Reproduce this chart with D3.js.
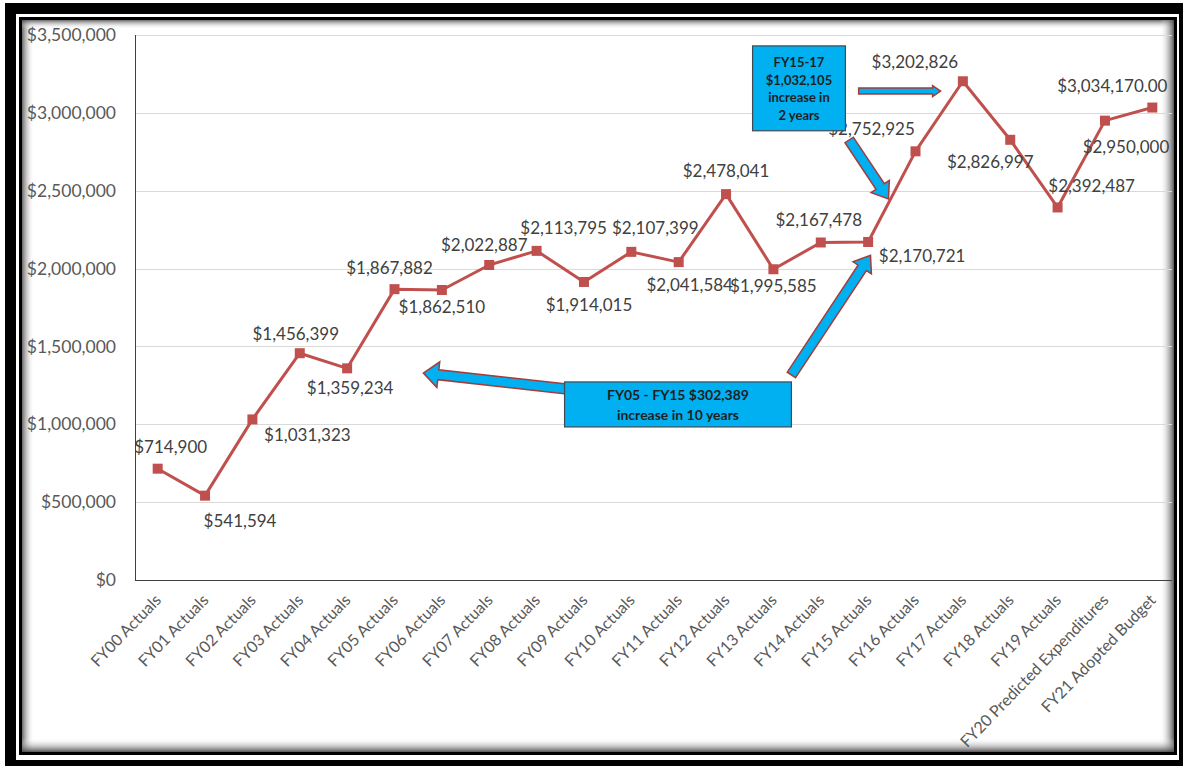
<!DOCTYPE html>
<html>
<head>
<meta charset="utf-8">
<script src="https://cdn.jsdelivr.net/npm/d3@7"></script>
<style>
  html, body { margin: 0; padding: 0; background: #fff; }
  svg { display: block; font-family: Lato, "Open Sans", sans-serif; }
</style>
</head>
<body>
<svg id="chart"></svg>
<script>
// ---- data ----
const categories = [
  'FY00 Actuals', 'FY01 Actuals', 'FY02 Actuals', 'FY03 Actuals', 'FY04 Actuals',
  'FY05 Actuals', 'FY06 Actuals', 'FY07 Actuals', 'FY08 Actuals', 'FY09 Actuals',
  'FY10 Actuals', 'FY11 Actuals', 'FY12 Actuals', 'FY13 Actuals', 'FY14 Actuals',
  'FY15 Actuals', 'FY16 Actuals', 'FY17 Actuals', 'FY18 Actuals', 'FY19 Actuals',
  'FY20 Predicted Expenditures', 'FY21 Adopted Budget'
];
const values = [
  714900, 541594, 1031323, 1456399, 1359234,
  1867882, 1862510, 2022887, 2113795, 1914015,
  2107399, 2041584, 2478041, 1995585, 2167478,
  2170721, 2752925, 3202826, 2826997, 2392487,
  2950000, 3034170
];
// decimals shown in each data label
const labelDecimals = [0,0,0,0,0, 0,0,0,0,0, 0,0,0,0,0, 0,0,0,0,0, 0,2];
const yTicks = [0, 500000, 1000000, 1500000, 2000000, 2500000, 3000000, 3500000];

// call-out texts
const boxTopLines = ['FY15-17', '$1,032,105', 'increase in', '2 years'];
const boxBottomLines = ['FY05 - FY15 $302,389', 'increase in 10 years'];

// ---- layout ----
const W = 1183, H = 766;
const margin = {left: 134, right: 1176, top: 35, bottom: 580};
// label offsets (px) from each marker, as placed in the original
const labelOffsets = [
  [13,-22],[35,25],[55,15],[-4,-20],[3,19],
  [-5,-22],[0,17],[-5,-21],[27,-23],[5,23],
  [24,-24],[11,22],[0,-24],[0,16],[-2,-23],
  [54,14],[-44,-23],[-48,-20],[-20,22],[34,-22],
  [21,26],[-40,-22]
];
// annotations in data space: [category index, value]
const arrows = [
  {from: [14.80, 3140000], to: [16.53, 3140000], s: 3, h: 5.5, l: 8},
  {from: [14.60, 2826000], to: [15.43, 2447000], s: 5, h: 11, l: 15},
  {from: [13.38, 1317000], to: [15.05, 2085000], s: 5, h: 11, l: 15},
  {from: [8.63, 1227000], to: [5.61, 1329000], s: 5, h: 13, l: 15}
];
const boxTop = {x0: 12.56, x1: 14.52, v0: 3430000, v1: 2885000};
const boxBottom = {x0: 8.59, x1: 13.38, v0: 1272000, v1: 983000};

const svg = d3.select('#chart').attr('width', W).attr('height', H);

const defs = svg.append('defs');
function grad(id, x1, y1, x2, y2, op) {
  const g = defs.append('linearGradient').attr('id', id)
    .attr('x1', x1).attr('y1', y1).attr('x2', x2).attr('y2', y2);
  g.append('stop').attr('offset', '0%').attr('stop-color', '#444').attr('stop-opacity', op);
  g.append('stop').attr('offset', '100%').attr('stop-color', '#fff').attr('stop-opacity', 0);
}
grad('shL', 0, 0, 1, 0, 0.8);
grad('shR', 1, 0, 0, 0, 0.9);
grad('shT', 0, 0, 0, 1, 0.8);
grad('shB', 0, 1, 0, 0, 0.9);

// frame
svg.append('rect').attr('x', 10.5).attr('y', 8.5).attr('width', 1174).attr('height', 757)
  .attr('fill', 'none').attr('stroke', '#000').attr('stroke-width', 11);
svg.append('rect').attr('x', 22).attr('y', 20).attr('width', 1152).attr('height', 732).attr('fill', '#fff');
svg.append('rect').attr('x', 22).attr('y', 20).attr('width', 12).attr('height', 732).attr('fill', 'url(#shL)');
svg.append('rect').attr('x', 22).attr('y', 20).attr('width', 1152).attr('height', 9).attr('fill', 'url(#shT)');
svg.append('rect').attr('x', 1160).attr('y', 20).attr('width', 14).attr('height', 732).attr('fill', 'url(#shR)');
svg.append('rect').attr('x', 22).attr('y', 738).attr('width', 1152).attr('height', 14).attr('fill', 'url(#shB)');
svg.append('rect').attr('x', 20.5).attr('y', 18.5).attr('width', 1155).attr('height', 735)
  .attr('fill', 'none').attr('stroke', '#000').attr('stroke-width', 3);

// scales
const x = d3.scalePoint().domain(categories).range([margin.left, margin.right]).padding(0.5);
const y = d3.scaleLinear().domain([0, 3500000]).range([margin.bottom, margin.top]);
const step = x.step();
const xi = i => x(categories[0]) + i * step;

const chart = svg.append('g');

// gridlines
chart.append('g').selectAll('line').data(yTicks.slice(1)).join('line')
  .attr('x1', 135).attr('x2', 1172)
  .attr('y1', d => Math.round(y(d)) + 0.5).attr('y2', d => Math.round(y(d)) + 0.5)
  .attr('stroke', '#d9d9d9').attr('stroke-width', 1);

// y axis
const yaxis = d3.axisLeft(y).tickValues(yTicks).tickSize(0).tickPadding(19)
  .tickFormat(d3.format('$,.0f'));
const yg = chart.append('g').attr('transform', 'translate(135,0)').call(yaxis);
yg.select('.domain').remove();
yg.selectAll('text').attr('fill', '#595959').style('font-size', '17.5px')
  .style('font-family', 'Lato, sans-serif');

// x axis
const xaxis = d3.axisBottom(x).tickSize(0);
const xg = chart.append('g').attr('transform', `translate(0,${margin.bottom})`).call(xaxis);
xg.select('.domain').remove();
xg.selectAll('text')
  .attr('fill', '#595959').style('font-size', '16px').style('font-family', 'Lato, sans-serif')
  .attr('text-anchor', 'end').attr('y', 0).attr('dy', 0)
  .attr('transform', 'translate(4,21) rotate(-46)');

// axis lines
chart.append('line').attr('x1', 135.5).attr('x2', 135.5).attr('y1', 35).attr('y2', 580.5)
  .attr('stroke', '#404040').attr('stroke-width', 1);
chart.append('line').attr('x1', 135).attr('x2', 1172).attr('y1', 580.5).attr('y2', 580.5)
  .attr('stroke', '#404040').attr('stroke-width', 1);

// series
const pts = values.map((v, i) => ({c: categories[i], v: v, i: i}));
const line = d3.line().x(d => x(d.c)).y(d => y(d.v));
chart.append('path').attr('d', line(pts))
  .attr('fill', 'none').attr('stroke', '#c0504d').attr('stroke-width', 3)
  .attr('stroke-linejoin', 'round');
const ms = 10;
chart.append('g').selectAll('rect').data(pts).join('rect')
  .attr('x', d => x(d.c) - ms / 2).attr('y', d => y(d.v) - ms / 2)
  .attr('width', ms).attr('height', ms).attr('fill', '#c0504d');

// data labels
chart.append('g').selectAll('text').data(pts).join('text')
  .attr('x', d => x(d.c) + labelOffsets[d.i][0])
  .attr('y', d => y(d.v) + labelOffsets[d.i][1])
  .attr('text-anchor', 'middle').attr('dominant-baseline', 'central')
  .attr('fill', '#404040').style('font-size', '17px')
  .text(d => d3.format(`$,.${labelDecimals[d.i]}f`)(d.v));

// block arrows
function arrowPath(a) {
  const t = [xi(a.from[0]), y(a.from[1])], p = [xi(a.to[0]), y(a.to[1])];
  const dx = p[0] - t[0], dy = p[1] - t[1], len = Math.hypot(dx, dy);
  const u = [dx / len, dy / len], n = [-u[1], u[0]];
  const b = [p[0] - u[0] * a.l, p[1] - u[1] * a.l];
  const pt = (o, k) => [o[0] + n[0] * k, o[1] + n[1] * k];
  return d3.line()([pt(t, a.s), pt(b, a.s), pt(b, a.h), p, pt(b, -a.h), pt(b, -a.s), pt(t, -a.s)]) + 'Z';
}
chart.append('g').selectAll('path').data(arrows).join('path')
  .attr('d', arrowPath).attr('fill', '#00b0f0')
  .attr('stroke', '#a33c3a').attr('stroke-width', 1.5).attr('stroke-linejoin', 'miter');

// call-out boxes
function drawBox(b, lines, fs, lh) {
  const x0 = xi(b.x0), x1 = xi(b.x1), y0 = y(b.v0), y1 = y(b.v1);
  chart.append('rect').attr('x', x0).attr('y', y0).attr('width', x1 - x0).attr('height', y1 - y0)
    .attr('fill', '#00b0f0').attr('stroke', '#3f4a55').attr('stroke-width', 1.2);
  const cy = (y0 + y1) / 2, n = lines.length;
  chart.append('g').selectAll('text').data(lines).join('text')
    .attr('x', (x0 + x1) / 2)
    .attr('y', (d, i) => cy + (i - (n - 1) / 2) * lh)
    .attr('text-anchor', 'middle').attr('dominant-baseline', 'central')
    .attr('fill', '#1f1f1f').style('font-size', fs + 'px').style('font-weight', 'bold')
    .text(d => d);
}
drawBox(boxTop, boxTopLines, 13, 17.5);
drawBox(boxBottom, boxBottomLines, 14, 20);
</script>
</body>
</html>
